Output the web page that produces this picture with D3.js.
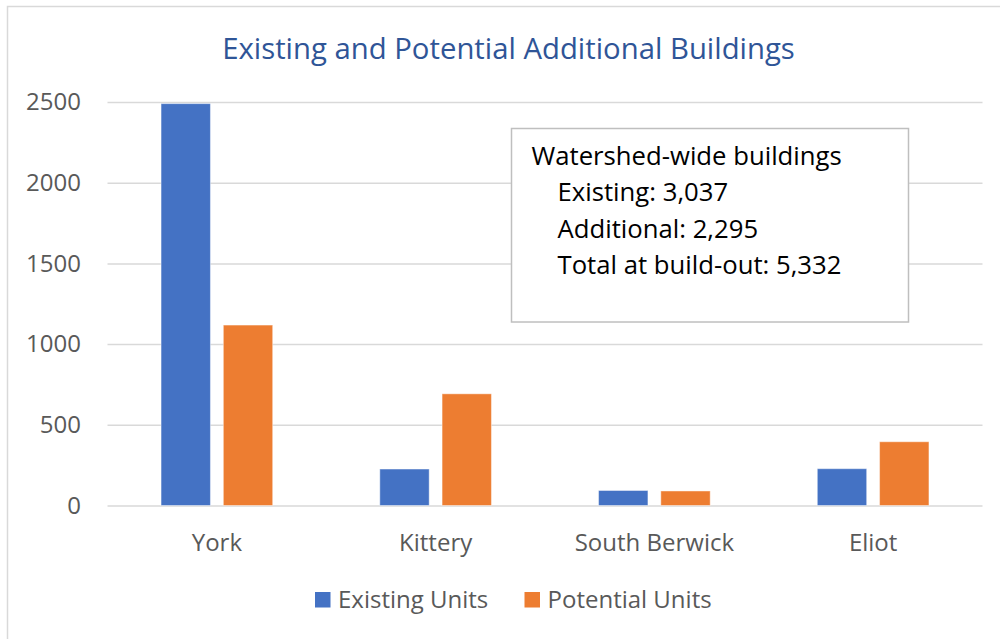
<!DOCTYPE html>
<html><head><meta charset="utf-8">
<script src="https://cdn.jsdelivr.net/npm/d3@7"></script>
<style>body{margin:0;background:#fff}svg{display:block}</style>
</head><body>
<svg id="c" width="1000" height="639"></svg>
<script>
const categories = ["York", "Kittery", "South Berwick", "Eliot"];
const seriesNames = ["Existing Units", "Potential Units"];
const existingUnits = [2490, 226, 93, 228];
const potentialUnits = [1118, 692, 90, 395];
const yTicks = [0, 500, 1000, 1500, 2000, 2500];
const titleText = "Existing and Potential Additional Buildings";
const noteLines = ["Watershed-wide buildings", "Existing: 3,037", "Additional: 2,295", "Total at build-out: 5,332"];
const seriesColors = ["#4472C4", "#ED7D31"];

(function () {
const svg = d3.select("#c");
const plotL = 107.5, plotR = 982.5, plotT = 102, plotB = 505.5;
const seriesValues = [existingUnits, potentialUnits];

svg.append("rect").attr("x", 7.5).attr("y", 6.5).attr("width", 1100).attr("height", 800)
  .attr("fill", "#fff").attr("stroke", "#D9D9D9").attr("stroke-width", 1.5);

const x0 = d3.scaleBand().domain(categories).range([plotL, plotR]).padding(0);
const x1 = d3.scaleBand().domain(seriesNames).range([0, x0.bandwidth()])
  .paddingInner(0.207).paddingOuter(0.86);
const y = d3.scaleLinear().domain([0, 2500]).range([plotB, plotT]);

const yAxis = svg.append("g").attr("transform", `translate(${plotL},0)`)
  .call(d3.axisLeft(y).tickValues(yTicks).tickFormat(d3.format("d"))
    .tickSizeInner(-(plotR - plotL)).tickSizeOuter(0).tickPadding(26.5));
yAxis.select(".domain").remove();
yAxis.selectAll(".tick line").attr("stroke", "#D9D9D9").attr("stroke-width", 1.5);
yAxis.selectAll(".tick text").attr("fill", "#595959")
  .style("font-family", "'Open Sans', sans-serif").style("font-size", "24px");

const groups = svg.append("g").selectAll("g").data(categories).join("g")
  .attr("transform", d => `translate(${x0(d)},0)`);
groups.selectAll("rect")
  .data((c, i) => seriesNames.map((s, k) => ({ s, k, v: seriesValues[k][i] })))
  .join("rect")
  .attr("x", d => x1(d.s)).attr("width", x1.bandwidth())
  .attr("y", d => y(d.v)).attr("height", d => y(0) - y(d.v))
  .attr("fill", d => seriesColors[d.k])
  .attr("stroke", "rgba(255,255,255,0.45)").attr("stroke-width", 1);

const xAxis = svg.append("g").attr("transform", `translate(0,${plotB})`)
  .call(d3.axisBottom(x0).tickSize(0).tickPadding(28.5));
xAxis.select(".domain").remove();
xAxis.selectAll(".tick text").attr("fill", "#595959")
  .style("font-family", "'Open Sans', sans-serif").style("font-size", "24px");

svg.append("text").attr("x", 508.5).attr("y", 59).attr("text-anchor", "middle")
  .attr("fill", "#2F5597").style("font-family", "'Open Sans', sans-serif")
  .style("font-size", "29.3px").text(titleText);

const note = svg.append("g");
note.append("rect").attr("x", 511.5).attr("y", 128.5).attr("width", 397).attr("height", 193.5)
  .attr("fill", "#fff").attr("stroke", "#BFBFBF").attr("stroke-width", 1.5);
note.selectAll("text").data(noteLines).join("text")
  .attr("x", (d, i) => i === 0 ? 531.5 : 557.5)
  .attr("y", (d, i) => 165 + i * 36.3)
  .attr("fill", "#000").style("font-family", "'Open Sans', sans-serif").style("font-size", "25.7px")
  .text(d => d);

const legendX = [315, 524.5];
const leg = svg.append("g").selectAll("g").data(seriesNames).join("g")
  .attr("transform", (d, i) => `translate(${legendX[i]},0)`);
leg.append("rect").attr("x", 0).attr("y", 592).attr("width", 15.5).attr("height", 15.5)
  .attr("fill", (d, i) => seriesColors[i]);
leg.append("text").attr("x", 23).attr("y", 607.5).attr("fill", "#595959")
  .style("font-family", "'Open Sans', sans-serif").style("font-size", "24px").text(d => d);
})();
</script>
</body></html>
